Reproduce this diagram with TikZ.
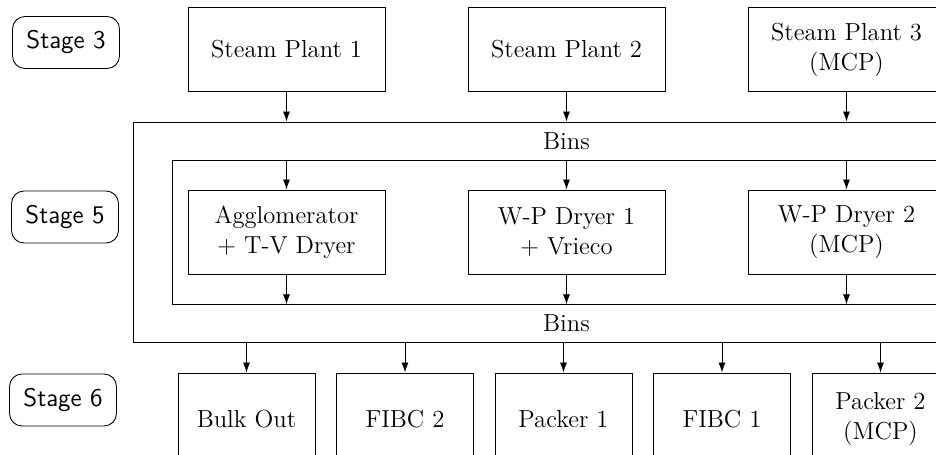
\documentclass[tikz,border=0pt]{standalone}
\usepackage{tikz}
\usetikzlibrary{shapes.geometric, arrows.meta}
\tikzstyle{stage} = [rectangle, rounded corners=0.25cm, minimum width=2.14cm,
  minimum height=1.04cm, text centered, draw=black,
  font=\fontsize{14.5}{17}\sffamily]
\tikzstyle{plant} = [rectangle, minimum width=3.94cm, minimum
  height=1.68cm, text centered, align=center, draw=black,
  font=\fontsize{14}{17}\selectfont]
\tikzstyle{outlet} = [rectangle, minimum width=2.74cm, minimum
  height=1.84cm, text centered, align=center, draw=black,
  font=\fontsize{14}{17}\selectfont]
\tikzstyle{bins} = [rectangle, draw=black]
\tikzstyle{binlabel} = [font=\fontsize{14}{17}\selectfont]
\tikzstyle{arrow} = [->,>={Latex[length=2mm, width=1.4mm]}]

\begin{document}
\begin{tikzpicture}[node distance=5.6cm, line width=0.5pt]
\path[use as bounding box, clip] (0,0) rectangle (18.72,-9.1);

%% nodes
\node (stage3) [stage] at (1.32,-0.85) {Stage 3};
\node (stage5) [stage] at (1.30,-4.34) {Stage 5};
\node (stage6) [stage] at (1.26,-8.00) {Stage 6};
\node (plant1) [plant] at (5.73,-0.99) {Steam Plant 1};
\node (plant2) [plant, right of=plant1] {Steam Plant 2};
\node (plant3) [plant, right of=plant2] {Steam Plant 3\\(MCP)};
\node (binsOut) [bins, minimum width=16.84cm, minimum height=4.4cm]
      at (11.08,-4.64) {};
\node (binsIn) [bins, minimum width=15.66cm, minimum height=2.88cm]
      at (11.27,-4.64) {};
\node (binsTop) [binlabel] at (11.33,-2.82) {Bins};
\node (binsBot) [binlabel] at (11.33,-6.46) {Bins};
\node (dryer0) [plant, node distance=3.65cm, below of=plant1]
      {Agglomerator\\+ T-V Dryer};
\node (dryer1) [plant, node distance=3.65cm, below of=plant2]
      {W-P Dryer 1\\+ Vrieco};
\node (dryer2) [plant, node distance=3.65cm, below of=plant3]
      {W-P Dryer 2\\(MCP)};
\node (bulk) [outlet] at (4.93,-8.38) {Bulk Out};
\node (fibc2) [outlet, node distance=3.17cm, right of=bulk] {FIBC 2};
\node (packer1) [outlet, node distance=3.17cm, right of=fibc2] {Packer 1};
\node (fibc1) [outlet, node distance=3.17cm, right of=packer1] {FIBC 1};
\node (packer2) [outlet, node distance=3.17cm, right of=fibc1]
      {Packer 2\\(MCP)};

%% paths
\draw [arrow] (plant1) -- (plant1 |- binsOut.north);
\draw [arrow] (plant2) -- (plant2 |- binsOut.north);
\draw [arrow] (plant3) -- (plant3 |- binsOut.north);
\draw [arrow] (binsIn.north -| dryer0) -- (dryer0);
\draw [arrow] (binsIn.north -| dryer1) -- (dryer1);
\draw [arrow] (binsIn.north -| dryer2) -- (dryer2);
\draw [arrow] (dryer0) -- (dryer0 |- binsIn.south);
\draw [arrow] (dryer1) -- (dryer1 |- binsIn.south);
\draw [arrow] (dryer2) -- (dryer2 |- binsIn.south);
\draw [arrow] (binsOut.south -| bulk) -- (bulk);
\draw [arrow] (binsOut.south -| fibc2) -- (fibc2);
\draw [arrow] (binsOut.south -| packer1) -- (packer1);
\draw [arrow] (binsOut.south -| fibc1) -- (fibc1);
\draw [arrow] (binsOut.south -| packer2) -- (packer2);

\end{tikzpicture}
\end{document}
